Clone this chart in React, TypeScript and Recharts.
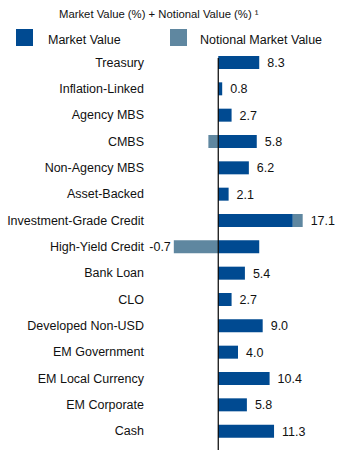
import React from "react";
import { BarChart, Bar, XAxis, YAxis, ReferenceLine, LabelList } from "recharts";

const categories = [
  "Treasury",
  "Inflation-Linked",
  "Agency MBS",
  "CMBS",
  "Non-Agency MBS",
  "Asset-Backed",
  "Investment-Grade Credit",
  "High-Yield Credit",
  "Bank Loan",
  "CLO",
  "Developed Non-USD",
  "EM Government",
  "EM Local Currency",
  "EM Corporate",
  "Cash",
];
const marketValue = [8.3, 0.8, 2.7, 7.8, 6.2, 2.1, 15.1, 8.3, 5.4, 2.7, 9.0, 4.0, 10.4, 5.8, 11.3];
const notionalValue = [0, 0, 0, -2.0, 0, 0, 2.0, -9.0, 0, 0, 0, 0, 0, 0, 0];

const MV_COLOR = "#004a91";
const NV_COLOR = "#5f87a0";
const FONT = "'Liberation Sans', Arial, sans-serif";

const legendItems = [
  { name: "Market Value", color: MV_COLOR, box: 16, text: 48 },
  { name: "Notional Market Value", color: NV_COLOR, box: 170, text: 200 },
];

const chartData = categories.map((name, i) => ({
  name,
  market: marketValue[i],
  notional: notionalValue[i],
}));

// the total is written once per row, next to whichever piece sticks out furthest
const valueLabel = (series: "market" | "notional") => (props: any) => {
  const i = categories.indexOf(props.value);
  if (i < 0) return null;
  const vb = props.viewBox ?? props;
  const mv = marketValue[i];
  const nv = notionalValue[i];
  const net = mv + nv;
  const owner = net < 0 || nv > 0 ? "notional" : "market";
  if (owner !== series) return null;
  const left = Math.min(vb.x, vb.x + vb.width);
  const right = Math.max(vb.x, vb.x + vb.width);
  const cy = vb.y + vb.height / 2;
  return (
    <text
      x={net < 0 ? left - 3 : right + 8}
      y={cy}
      dy="0.36em"
      textAnchor={net < 0 ? "end" : "start"}
      fontSize={12.5}
      fontFamily={FONT}
      fill="#111"
    >
      {net.toFixed(1)}
    </text>
  );
};

const CategoryTick = (props: any) => {
  const { x, y, payload } = props;
  return (
    <text x={x} y={y} dy="0.36em" textAnchor="end" fontSize={12.5} fontFamily={FONT} fill="#111">
      {payload.value}
    </text>
  );
};

const App: React.FC = () => {
  return (
    <div style={{ position: "absolute", left: 0, top: 0, width: 351, height: 459, background: "#fff", fontFamily: FONT }}>
      <div style={{ position: "absolute", left: 59, top: 6, fontSize: 11.3, lineHeight: "16px", color: "#111", whiteSpace: "nowrap" }}>
        Market Value (%) + Notional Value (%) ¹
      </div>
      {legendItems.map((item) => (
        <React.Fragment key={item.name}>
          <div style={{ position: "absolute", left: item.box, top: 29, width: 17, height: 17, background: item.color }} />
          <div style={{ position: "absolute", left: item.text, top: 31, fontSize: 12.5, lineHeight: "18px", color: "#111", whiteSpace: "nowrap" }}>
            {item.name}
          </div>
        </React.Fragment>
      ))}
      <div style={{ position: "absolute", left: 0, top: 0 }}>
        <BarChart
          width={351}
          height={459}
          data={chartData}
          layout="vertical"
          stackOffset="sign"
          margin={{ top: 49, right: 34, bottom: 15, left: 0 }}
          style={{ fontFamily: FONT }}
        >
          <XAxis type="number" domain={[-12, 20]} hide />
          <YAxis
            type="category"
            dataKey="name"
            width={159}
            axisLine={false}
            tickLine={false}
            tickSize={0}
            tickMargin={15}
            interval={0}
            tick={<CategoryTick />}
          />
          <Bar dataKey="market" stackId="a" fill={MV_COLOR} barSize={13} isAnimationActive={false}>
            <LabelList dataKey="name" content={valueLabel("market")} />
          </Bar>
          <Bar dataKey="notional" stackId="a" fill={NV_COLOR} barSize={13} isAnimationActive={false}>
            <LabelList dataKey="name" content={valueLabel("notional")} />
          </Bar>
          <ReferenceLine
            x={0}
            stroke="#000"
            shape={(p: any) => <line x1={p.x1} y1={p.y1 + 6} x2={p.x2} y2={p.y2 + 9} stroke="#000" strokeWidth={1.2} />}
          />
        </BarChart>
      </div>
    </div>
  );
};

export default App;
